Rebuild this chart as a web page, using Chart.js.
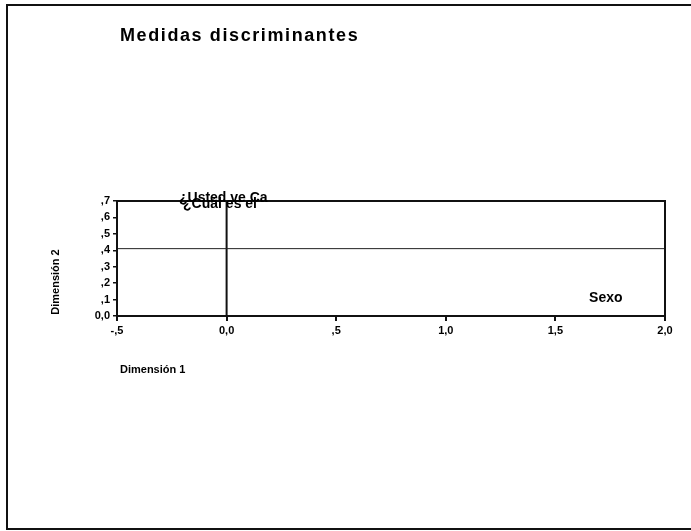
<!DOCTYPE html>
<html>
<head>
<meta charset="utf-8">
<script src="https://cdn.jsdelivr.net/npm/chart.js@4/dist/chart.umd.min.js"></script>
<style>
  html, body { margin: 0; padding: 0; background: #fff; }
  canvas { display: block; }
</style>
</head>
<body>
<canvas id="grafico" width="691" height="531"></canvas>
<script>
// ---- datos ----
const etiquetas = ["¿Usted ve Ca", "¿Cuál es el", "Sexo"];
const dim1 = [-0.015, -0.03, 1.73];
const dim2 = [0.72, 0.68, 0.11];
const lineaRef = 0.41; // linea horizontal de referencia
const xTicks = [-0.5, 0.0, 0.5, 1.0, 1.5, 2.0];
const xTickLabels = ["-,5", "0,0", ",5", "1,0", "1,5", "2,0"];
const yTicks = [0.0, 0.1, 0.2, 0.3, 0.4, 0.5, 0.6, 0.7];
const yTickLabels = ["0,0", ",1", ",2", ",3", ",4", ",5", ",6", ",7"];

const FUENTE = "'Liberation Sans', Arial, sans-serif";

function etiquetaTick(lista, textos, v) {
  const i = lista.findIndex((t) => Math.abs(t - v) < 1e-6);
  return i >= 0 ? textos[i] : "";
}

// textos, marco y etiquetas de puntos
const dibujoExtra = {
  id: "dibujoExtra",
  afterDraw(chart) {
    const c = chart.ctx;
    const a = chart.chartArea;
    const sx = chart.scales.x, sy = chart.scales.y;
    c.save();

    // marco exterior
    c.strokeStyle = "#111";
    c.lineWidth = 2;
    c.beginPath();
    c.moveTo(691, 5);
    c.lineTo(7, 5);
    c.lineTo(7, 529);
    c.lineTo(691, 529);
    c.stroke();

    // borde del area de grafico
    c.lineWidth = 2;
    c.strokeRect(a.left, a.top, a.right - a.left, a.bottom - a.top);

    c.fillStyle = "#000";
    c.textBaseline = "middle";

    // titulo
    c.font = "bold 18px " + FUENTE;
    c.textAlign = "left";
    c.letterSpacing = "1.6px";
    c.fillText("Medidas discriminantes", 120, 36);
    c.letterSpacing = "0px";

    // titulos de ejes
    c.font = "bold 11px " + FUENTE;
    c.fillText("Dimensión 1", 120, 370);
    c.save();
    c.translate(56, 282);
    c.rotate(-Math.PI / 2);
    c.textAlign = "center";
    c.fillText("Dimensión 2", 0, 0);
    c.restore();

    // etiquetas de puntos
    c.font = "bold 14px " + FUENTE;
    c.textAlign = "center";
    etiquetas.forEach((t, i) => {
      c.fillText(t, sx.getPixelForValue(dim1[i]), sy.getPixelForValue(dim2[i]));
    });
    c.restore();
  },
};

new Chart(document.getElementById("grafico"), {
  type: "scatter",
  data: {
    datasets: [
      {
        label: "Medidas",
        data: dim1.map((x, i) => ({ x: x, y: dim2[i] })),
        pointRadius: 0,
        showLine: false,
      },
      {
        label: "ref horizontal",
        data: [{ x: -0.5, y: lineaRef }, { x: 2.0, y: lineaRef }],
        showLine: true,
        borderColor: "#222",
        borderWidth: 1,
        pointRadius: 0,
      },
      {
        label: "ref vertical",
        data: [{ x: 0, y: 0 }, { x: 0, y: 0.7 }],
        showLine: true,
        borderColor: "#111",
        borderWidth: 2,
        pointRadius: 0,
      },
    ],
  },
  options: {
    responsive: false,
    animation: false,
    layout: { padding: { left: 0, right: 26, top: 201, bottom: 0 } },
    plugins: { legend: { display: false }, tooltip: { enabled: false } },
    scales: {
      x: {
        type: "linear",
        min: -0.5,
        max: 2.0,
        afterBuildTicks: (s) => { s.ticks = xTicks.map((v) => ({ value: v })); },
        afterFit: (s) => { s.height = 215; },
        grid: { drawOnChartArea: false, tickLength: 5, color: "#111", lineWidth: 2 },
        border: { display: true, color: "#111", width: 2 },
        ticks: {
          color: "#000",
          font: { family: FUENTE, size: 11, weight: "bold" },
          padding: 3,
          maxRotation: 0,
          callback: (v) => etiquetaTick(xTicks, xTickLabels, v),
        },
      },
      y: {
        type: "linear",
        min: 0,
        max: 0.7,
        afterBuildTicks: (s) => { s.ticks = yTicks.map((v) => ({ value: v })); },
        afterFit: (s) => { s.width = 117; },
        grid: { drawOnChartArea: false, tickLength: 4, color: "#111", lineWidth: 1.5 },
        border: { display: true, color: "#111", width: 2 },
        ticks: {
          color: "#000",
          font: { family: FUENTE, size: 11, weight: "bold" },
          padding: 3,
          callback: (v) => etiquetaTick(yTicks, yTickLabels, v),
        },
      },
    },
  },
  plugins: [dibujoExtra],
});
</script>
</body>
</html>
